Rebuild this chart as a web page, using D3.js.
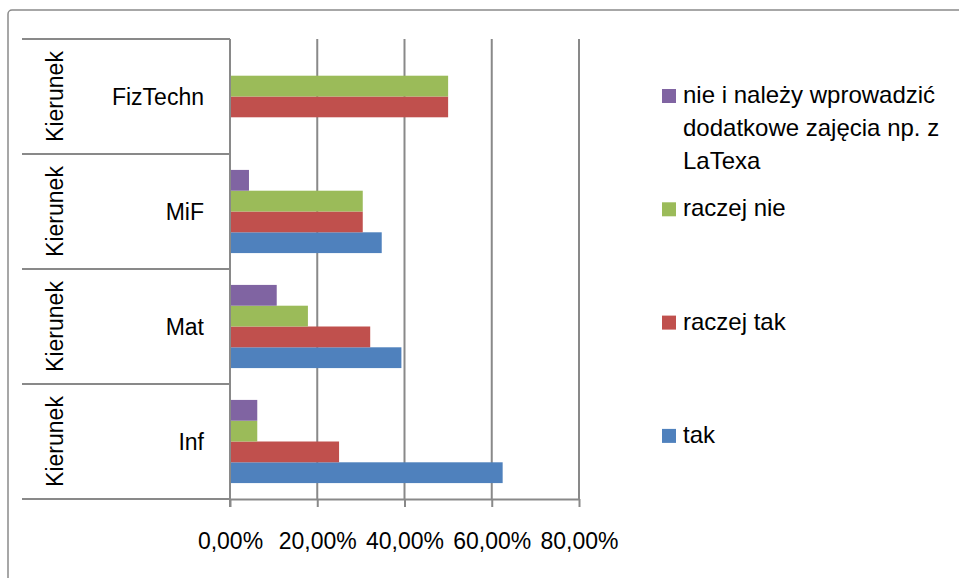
<!DOCTYPE html>
<html>
<head>
<meta charset="utf-8">
<script src="https://cdn.jsdelivr.net/npm/d3@7"></script>
<style>
  html, body { margin: 0; padding: 0; background: #fff; }
  svg { display: block; }
  text { font-family: "Liberation Sans", Arial, sans-serif; fill: #000; }
</style>
</head>
<body>
<svg id="chart" width="959" height="578"></svg>
<script>
// ---- data ----
const categories = ["Inf", "Mat", "MiF", "FizTechn"];
const groupLabel = "Kierunek";
const seriesNames = ["tak", "raczej tak", "raczej nie", "nie i należy wprowadzić dodatkowe zajęcia np. z LaTexa"];
const seriesColors = ["#4F81BD", "#C0504D", "#9BBB59", "#8064A2"];
const takValues       = [0.625, 0.3929, 0.3478, 0];
const raczejTakValues = [0.25, 0.3214, 0.3043, 0.5];
const raczejNieValues = [0.0625, 0.1786, 0.3043, 0.5];
const nieLatexValues  = [0.0625, 0.1071, 0.0435, 0];
const xTickValues = [0, 0.2, 0.4, 0.6, 0.8];

const seriesValues = [takValues, raczejTakValues, raczejNieValues, nieLatexValues];

// ---- layout ----
const svg = d3.select("#chart");
const W = 959, H = 578;
const plot = { left: 230, right: 579, top: 39, bottom: 499 };
const catLeft = 22;
const lineColor = "#898989";
const fontSize = 23;
const legendFontSize = 24;

svg.append("rect").attr("width", W).attr("height", H).attr("fill", "#fff");
// outer chart border
svg.append("rect").attr("x", 8).attr("y", 10).attr("width", W + 20).attr("height", H + 20)
  .attr("rx", 4).attr("fill", "none").attr("stroke", "#8a8a8a").attr("stroke-width", 1.5);

const x = d3.scaleLinear().domain([0, 0.8]).range([plot.left, plot.right]);
const y0 = d3.scaleBand().domain(categories).range([plot.bottom, plot.top]).padding(0);
const barOrder = seriesNames.map((n, i) => i).reverse(); // top-down: last series on top
const y1 = d3.scaleBand().domain(barOrder).range([0, y0.bandwidth()]).paddingInner(0).paddingOuter(0.765);

// gridlines
svg.append("g").selectAll("line").data(xTickValues.filter(d => d > 0)).join("line")
  .attr("x1", d => x(d)).attr("x2", d => x(d))
  .attr("y1", plot.top).attr("y2", plot.bottom)
  .attr("stroke", lineColor).attr("stroke-width", 2);

// bars
const rows = [];
categories.forEach((c, ci) => {
  seriesValues.forEach((vals, si) => {
    rows.push({ cat: c, s: si, v: vals[ci] });
  });
});
svg.append("g").selectAll("rect").data(rows.filter(d => d.v > 0)).join("rect")
  .attr("x", x(0))
  .attr("y", d => y0(d.cat) + y1(d.s))
  .attr("width", d => x(d.v) - x(0))
  .attr("height", y1.bandwidth())
  .attr("fill", d => seriesColors[d.s]);

// category axis: vertical line and separators
svg.append("line").attr("x1", plot.left).attr("x2", plot.left)
  .attr("y1", plot.top).attr("y2", plot.bottom + 8)
  .attr("stroke", lineColor).attr("stroke-width", 2);
const boundaries = categories.map(c => y0(c)).concat([plot.bottom]);
svg.append("g").selectAll("line").data(boundaries).join("line")
  .attr("x1", catLeft).attr("x2", plot.left)
  .attr("y1", d => d).attr("y2", d => d)
  .attr("stroke", lineColor).attr("stroke-width", 2);

// category labels
svg.append("g").selectAll("text").data(categories).join("text")
  .attr("x", 204)
  .attr("y", d => y0(d) + y0.bandwidth() / 2 + 8.5)
  .attr("text-anchor", "end")
  .attr("font-size", fontSize)
  .text(d => d);

svg.append("g").selectAll("text").data(categories).join("text")
  .attr("transform", d => `translate(63,${y0(d) + y0.bandwidth() / 2}) rotate(-90)`)
  .attr("text-anchor", "middle")
  .attr("font-size", fontSize)
  .text(groupLabel);

// x axis
const fmt = d => d3.format(".2%")(d).replace(".", ",");
const xAxis = d3.axisBottom(x).tickValues(xTickValues).tickFormat(fmt)
  .tickSize(8).tickSizeOuter(0).tickPadding(26);
const gx = svg.append("g").attr("transform", `translate(0,${plot.bottom})`).call(xAxis);
gx.select(".domain").attr("stroke", lineColor).attr("stroke-width", 2);
gx.selectAll(".tick line").attr("stroke", lineColor).attr("stroke-width", 2);
gx.selectAll(".tick text").attr("font-size", fontSize).attr("fill", "#000")
  .style("font-family", '"Liberation Sans", Arial, sans-serif');

// legend
const legendX = 662, legendTextX = 683, legendTop = 103, legendStep = 113.3, lineH = 33;
const legendOrder = seriesNames.map((n, i) => i).reverse();
function wrapWords(text, maxWidth) {
  const tmp = svg.append("text").attr("font-size", legendFontSize);
  const words = text.split(" ");
  const lines = [];
  let cur = "";
  words.forEach(w => {
    const test = cur ? cur + " " + w : w;
    tmp.text(test);
    if (tmp.node().getComputedTextLength() > maxWidth && cur) {
      lines.push(cur); cur = w;
    } else cur = test;
  });
  if (cur) lines.push(cur);
  tmp.remove();
  return lines;
}
const lg = svg.append("g");
legendOrder.forEach((si, k) => {
  const by = legendTop + k * legendStep;
  lg.append("rect").attr("x", legendX).attr("y", by - 14).attr("width", 14).attr("height", 14)
    .attr("fill", seriesColors[si]);
  const lines = wrapWords(seriesNames[si], 268);
  const t = lg.append("text").attr("font-size", legendFontSize).attr("x", legendTextX).attr("y", by);
  lines.forEach((ln, li) => {
    t.append("tspan").attr("x", legendTextX).attr("y", by + li * lineH).text(ln);
  });
});
</script>
</body>
</html>
